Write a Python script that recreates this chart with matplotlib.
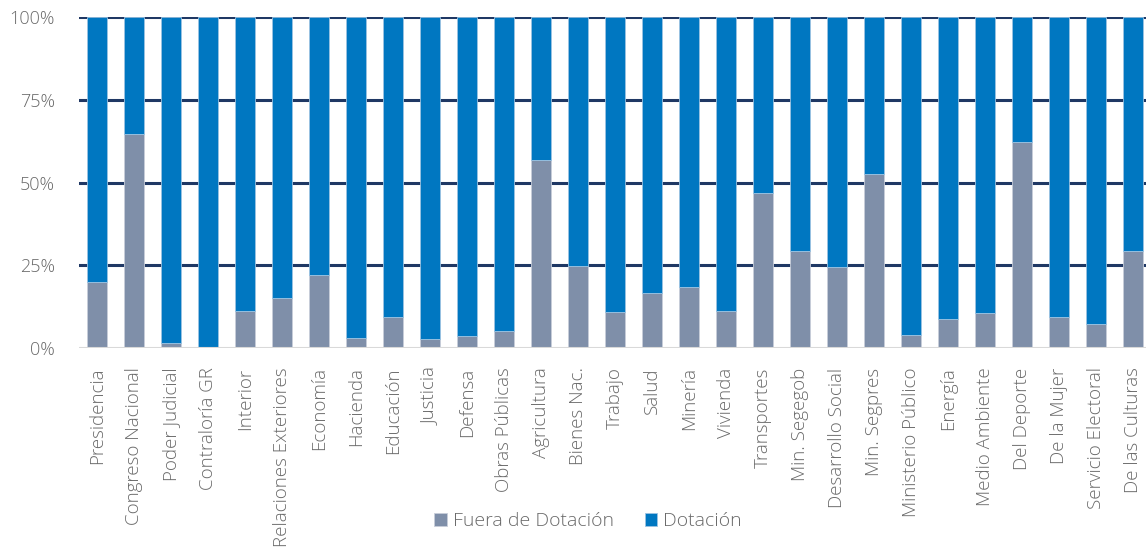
import matplotlib.pyplot as plt
import numpy as np

categorias = ['Presidencia', 'Congreso Nacional', 'Poder Judicial', 'Contraloría GR', 'Interior',
              'Relaciones Exteriores', 'Economía', 'Hacienda', 'Educación', 'Justicia', 'Defensa',
              'Obras Públicas', 'Agricultura', 'Bienes Nac.', 'Trabajo', 'Salud', 'Minería',
              'Vivienda', 'Transportes', 'Min. Segegob', 'Desarrollo Social', 'Min. Segpres',
              'Ministerio Público', 'Energía', 'Medio Ambiente', 'Del Deporte', 'De la Mujer',
              'Servicio Electoral', 'De las Culturas']
# porcentaje fuera de dotacion (el resto es dotacion)
fuera = [19.8, 64.8, 1.6, 0.2, 11.3, 15.2, 22.1, 3.0, 9.3, 2.7, 3.5, 5.0, 56.7, 24.8, 10.8,
         16.7, 18.3, 11.3, 46.7, 29.2, 24.4, 52.5, 3.8, 8.9, 10.5, 62.1, 9.3, 7.4, 29.2]
dotacion = [100 - f for f in fuera]
yticks = [0, 25, 50, 75, 100]

plt.rcParams['font.family'] = ['Open Sans', 'DejaVu Sans']
plt.rcParams['font.weight'] = 'light'
gris = '#7F8FA9'
azul = '#0077C1'
texto = '#6A6A6A'

fig = plt.figure(figsize=(11.46, 5.5), dpi=100)
n = len(categorias)
ax = fig.add_axes([78.5 / 1146, 1 - 348 / 550, n * 37 / 1146, 331 / 550])

x = np.arange(n)
for y in yticks[1:]:
    ax.axhline(y, color='#1F3864', lw=2.2, zorder=1)
ax.bar(x, fuera, width=0.55, color=gris, edgecolor='#C8CEDA', linewidth=0.6, zorder=2,
       label='Fuera de Dotación')
ax.bar(x, dotacion, bottom=fuera, width=0.55, color=azul, edgecolor='#9CC3E2', linewidth=0.6,
       zorder=2, label='Dotación')
ax.axhline(0, color='#D9D9D9', lw=1.5, zorder=3)

ax.set_xlim(-0.5, n - 0.5)
ax.set_ylim(0, 100)
ax.set_yticks(yticks)
ax.set_yticklabels([f'{v}%' for v in yticks])
ax.set_xticks(x)
ax.set_xticklabels(categorias, rotation=90)
ax.tick_params(axis='both', length=0, colors=texto)
ax.tick_params(axis='x', pad=14, labelsize=13.5)
ax.tick_params(axis='y', pad=17, labelsize=13)
for s in ax.spines.values():
    s.set_visible(False)

fig.legend(loc='center', bbox_to_anchor=(588 / 1146, 1 - 521 / 550), ncol=2, frameon=False,
           fontsize=14, labelcolor=texto, handlelength=0.65, handleheight=0.65,
           handletextpad=0.3, columnspacing=1.6)

fig.savefig('out.png', dpi=100)
